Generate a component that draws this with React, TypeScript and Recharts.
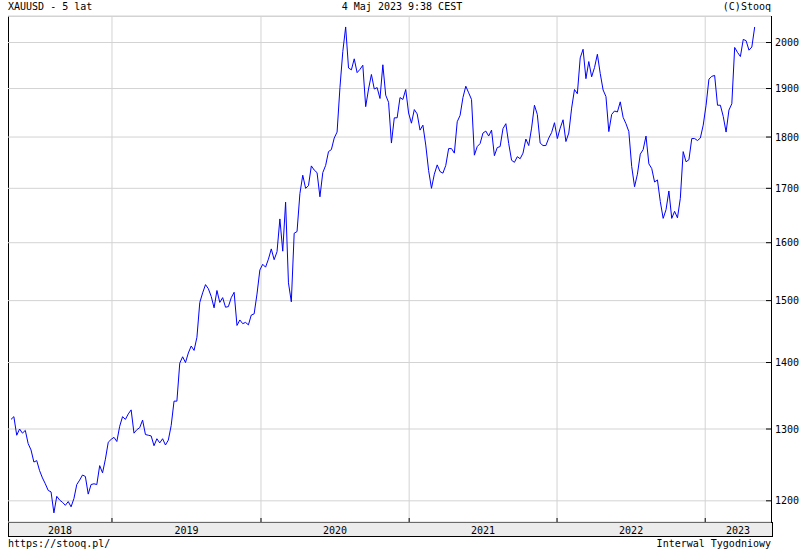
import React from 'react';
import { CartesianGrid, Line, LineChart, ReferenceLine, XAxis, YAxis } from 'recharts';

// weekly XAU/USD closes, May 2018 .. May 2023
const closes2018 = [
  1314, 1318, 1291, 1300, 1294, 1298, 1279, 1270, 1253, 1255, 1241, 1231, 1223, 1214, 1212,
  1184, 1206, 1201, 1198, 1194, 1199, 1192, 1203, 1222, 1228, 1235, 1233, 1209, 1222, 1223,
  1222, 1248, 1238, 1257, 1281,
];
const closes2019 = [
  1285, 1288, 1282, 1304, 1318, 1314, 1322, 1328, 1294, 1299, 1302, 1313, 1292, 1291, 1290,
  1276, 1286, 1280, 1286, 1277, 1284, 1305, 1341, 1341, 1399, 1409, 1400, 1415, 1426, 1419,
  1440, 1497, 1513, 1527, 1520, 1507, 1488, 1517, 1497, 1505, 1489, 1490, 1505, 1514, 1459,
  1468, 1462, 1464, 1460, 1476, 1478, 1511,
];
const closes2020 = [
  1552, 1562, 1557, 1571, 1589, 1570, 1584, 1643, 1585, 1674, 1530, 1498, 1617, 1620, 1690,
  1725, 1700, 1705, 1743, 1735, 1730, 1684, 1730, 1744, 1771, 1775, 1798, 1810, 1902, 1980,
  2035, 1944, 1940, 1964, 1934, 1941, 1950, 1862, 1899, 1930, 1899, 1902, 1879, 1951, 1886,
  1871, 1788, 1839, 1839, 1881, 1877, 1898,
];
const closes2021 = [
  1849, 1828, 1856, 1847, 1814, 1824, 1784, 1734, 1700, 1727, 1745, 1732, 1729, 1744, 1777,
  1777, 1768, 1831, 1844, 1881, 1905, 1891, 1877, 1764, 1781, 1787, 1808, 1812, 1802, 1814,
  1763, 1779, 1781, 1817, 1827, 1787, 1754, 1750, 1761, 1757, 1768, 1796, 1783, 1818, 1865,
  1846, 1788, 1783, 1783, 1798, 1809, 1829,
];
const closes2022 = [
  1797, 1818, 1835, 1791, 1808, 1859, 1898, 1889, 1966, 1985, 1921, 1958, 1925, 1945, 1974,
  1932, 1897, 1883, 1811, 1846, 1853, 1851, 1872, 1840, 1827, 1811, 1742, 1703, 1727, 1766,
  1775, 1802, 1747, 1738, 1712, 1716, 1675, 1644, 1660, 1695, 1644, 1657, 1645, 1681, 1771,
  1751, 1755, 1797, 1797, 1793, 1798, 1824,
];
const closes2023 = [1865, 1920, 1926, 1928, 1865, 1865, 1842, 1810, 1855, 1868, 1989, 1978, 1969, 2007, 2004, 1983, 1990, 2035];

const priceTicks = [1200, 1300, 1400, 1500, 1600, 1700, 1800, 1900, 2000];
const yearLabels = ['2018', '2019', '2020', '2021', '2022', '2023'];
// week index where each new year begins
const yearStarts = [35.3, 87.4, 139.2, 190.9, 242.7];

const X_DOMAIN: [number, number] = [-1.05, 265.7];
const Y_DOMAIN: [number, number] = [1172, 2060];

const weekly = [...closes2018, ...closes2019, ...closes2020, ...closes2021, ...closes2022, ...closes2023].map(
  (close, i) => ({ i, close }),
);

const bounds = [X_DOMAIN[0], ...yearStarts, X_DOMAIN[1]];
const labelPos = yearLabels.map((_, k) => (bounds[k] + bounds[k + 1]) / 2);
const bottomTicks = [...yearStarts, ...labelPos].sort((a, b) => a - b);

const FONT = '"DejaVu Sans Mono", monospace';
const GRID = '#d3d3d3';

function YearTick(props: any) {
  const { x, y, payload } = props;
  const k = labelPos.indexOf(payload.value);
  if (k < 0) {
    return <line x1={x} x2={x} y1={y - 4} y2={y} stroke="#000" />;
  }
  return (
    <text x={x} y={y + 8} textAnchor="middle" dominantBaseline="central" fontSize={10} fontFamily={FONT} fill="#000">
      {yearLabels[k]}
    </text>
  );
}

function TopTick(props: any) {
  const { x, y } = props;
  return <line x1={x} x2={x} y1={y} y2={y + 4} stroke="#000" />;
}

function PriceTick(props: any) {
  const { x, y, payload } = props;
  return (
    <g>
      <line x1={x - 5} x2={x} y1={y} y2={y} stroke="#000" />
      <text x={x + 4} y={y} dominantBaseline="central" fontSize={10} fontFamily={FONT} fill="#000">
        {payload.value}
      </text>
    </g>
  );
}

const textStyle: React.CSSProperties = {
  position: 'absolute',
  fontFamily: FONT,
  fontSize: 10,
  lineHeight: '12px',
  color: '#000',
  whiteSpace: 'nowrap',
};

export default function App() {
  return (
    <div style={{ position: 'absolute', left: 0, top: 0, width: 800, height: 550, background: '#fff', overflow: 'hidden' }}>
      <div style={{ ...textStyle, left: 8, top: 1 }}>XAUUSD - 5 lat</div>
      <div style={{ ...textStyle, left: 402, top: 1, transform: 'translateX(-50%)' }}>4 Maj 2023 9:38 CEST</div>
      <div style={{ ...textStyle, right: 29, top: 1 }}>(C)Stooq</div>

      <div
        style={{
          position: 'absolute',
          left: 8,
          top: 16,
          width: 763,
          height: 506,
          borderLeft: '1px solid #000',
          borderTop: `1px solid ${GRID}`,
          boxSizing: 'border-box',
        }}
      />
      <div
        style={{
          position: 'absolute',
          left: 8,
          top: 522,
          width: 765,
          height: 15,
          background: '#ececec',
          border: '1px solid #000',
          boxSizing: 'border-box',
        }}
      />
      <div style={{ position: 'absolute', left: 771, top: 16, width: 1, height: 507, background: '#000' }} />

      <div style={{ position: 'absolute', left: 0, top: 0 }}>
        <LineChart width={800} height={550} data={weekly} margin={{ top: 16, right: 0, bottom: 0, left: 8 }}>
          <CartesianGrid vertical={false} stroke={GRID} />
          <XAxis
            dataKey="i"
            type="number"
            domain={X_DOMAIN}
            allowDataOverflow
            ticks={bottomTicks}
            interval={0}
            height={28}
            tickSize={0}
            tickMargin={0}
            axisLine={false}
            tick={<YearTick />}
          />
          <XAxis
            xAxisId="top"
            orientation="top"
            type="number"
            domain={X_DOMAIN}
            allowDataOverflow
            ticks={yearStarts}
            interval={0}
            height={0}
            tickSize={0}
            tickMargin={0}
            axisLine={false}
            tick={<TopTick />}
          />
          <YAxis
            orientation="right"
            type="number"
            scale="log"
            domain={Y_DOMAIN}
            allowDataOverflow
            ticks={priceTicks}
            interval={0}
            width={29}
            tickSize={0}
            tickMargin={0}
            axisLine={false}
            tick={<PriceTick />}
          />
          {yearStarts.map((b) => (
            <ReferenceLine key={b} x={b} stroke={GRID} />
          ))}
          <Line
            type="linear"
            dataKey="close"
            stroke="#0000ff"
            strokeWidth={1}
            dot={false}
            isAnimationActive={false}
          />
        </LineChart>
      </div>

      <div style={{ ...textStyle, left: 8, top: 538 }}>https://stooq.pl/</div>
      <div style={{ ...textStyle, right: 29, top: 538 }}>Interwal Tygodniowy</div>
    </div>
  );
}
